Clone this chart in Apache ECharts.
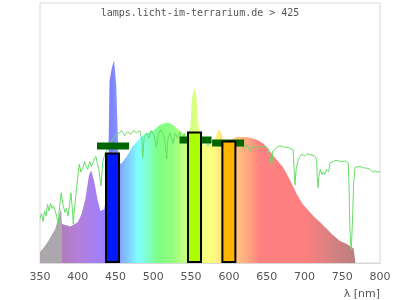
<!DOCTYPE html>
<html>
<head>
<meta charset="utf-8">
<script src="https://cdn.jsdelivr.net/npm/echarts@6/dist/echarts.min.js"></script>
<style>
  html, body { margin: 0; padding: 0; background: #fff; }
  #chart { width: 400px; height: 300px; }
</style>
</head>
<body>
<div id="chart"></div>
<script>
// lamp spectrum (relative intensity), wavelength in nm
const lampNm = [350, 355, 360, 365, 370, 375, 378, 379, 390, 400, 405, 410, 415, 418, 422, 426, 430, 435, 440, 442, 445, 448, 451, 454, 457, 464, 473, 482, 491, 500, 508, 517, 524, 530, 539, 545, 549, 551, 553, 555, 557, 559, 562, 566, 575, 581, 584, 587, 590, 593, 600, 610, 623, 628, 637, 646, 654, 663, 672, 681, 690, 698, 703, 712, 721, 730, 738, 747, 756, 765, 767.5];
const lampValues = [4.2, 6, 8, 10.5, 13, 18, 21, 15, 14, 15.7, 18.8, 24.5, 34, 35.6, 31, 24.5, 20, 20.7, 30, 70, 75, 78, 68, 40, 38, 40.7, 45, 48, 50, 51, 53, 54, 53.6, 52, 50, 49, 52, 63, 66, 67, 64, 55, 47, 45.5, 45.5, 46.5, 50, 51.6, 50, 47, 47, 48.5, 48.5, 48.2, 47.4, 45.9, 43, 39.8, 36.7, 31.8, 26.4, 22.5, 21, 18, 15.6, 13, 10.7, 8.5, 7.3, 5.6, 5.2];

// sunlight reference (green line)
const sunNm = [350, 352, 354, 356, 358, 360, 362, 364, 366, 368, 370, 372, 374, 376, 378, 380, 383, 385, 387, 389, 391, 393, 394, 396, 398, 400, 402, 404, 407, 409, 411, 413, 416, 418, 420, 422, 424, 426, 428, 429, 431, 433, 436, 440, 445, 450, 455, 458, 462, 466, 470, 474, 478, 482, 485, 486, 488, 491, 494, 497, 501, 504, 507, 510, 514, 516, 517.7, 519, 522, 526, 529, 532, 535, 538, 541, 544, 548, 552, 556, 560, 564, 568, 572, 576, 580, 584, 588, 592, 596, 600, 604, 608, 612, 616, 620, 624, 628, 632, 636, 640, 644, 648, 652, 655, 656.6, 658, 662, 666, 670, 674, 678, 682, 685, 686.5, 687.5, 689, 691, 694, 697, 700, 703, 706, 710, 714, 716, 717, 718, 719, 721, 723, 725, 727, 729, 732, 734, 738, 742, 746, 750, 754, 758, 759, 760, 761, 762, 763, 764, 765, 767, 771, 775, 779, 783, 787, 790, 793, 796, 800];
const sunValues = [17, 19, 16, 20, 18, 22.6, 20, 23, 21, 22, 20, 18, 15, 22, 27, 23, 19.5, 21, 18, 22, 27, 20, 15, 22, 27.7, 33, 38, 35, 36.7, 39, 38.6, 36, 39, 37, 38.6, 40, 41, 38, 36, 33.5, 29.6, 38.7, 42, 44, 47, 49, 50, 51, 49, 50.5, 49.5, 51, 50, 51, 47, 40.6, 49, 50, 48, 51, 49, 44.4, 50, 51.3, 49, 45, 40, 47, 50, 46, 50, 48, 50.5, 47, 50, 46, 49, 48, 47.5, 48, 46, 47, 45, 46.5, 47, 45, 47, 46, 45, 46, 45.5, 45, 46, 45, 44, 45.5, 43, 45, 44, 45, 44.5, 45, 44, 40, 37.3, 43, 44, 45, 45, 44.5, 44.5, 44, 43.5, 35, 30, 36, 39, 41, 42, 41, 42, 41.8, 41.5, 41, 40, 33, 29, 33, 36, 34, 35, 34, 36, 35, 38.5, 39, 39.5, 39.2, 39, 39.2, 38.5, 30, 15, 8, 5, 12, 20, 30, 36.8, 37, 37, 36.5, 36.5, 36, 35, 35.5, 35, 35.2];

// measured bands (bars) and reference levels (dark green markers)
const bandNm = [446, 554.5, 600];
const bandValues = [42.5, 50.6, 47.1];
const markerNm = [446.6, 555.8, 599];
const markerValues = [45, 47.3, 46.2];

const xTicks = [350, 400, 450, 500, 550, 600, 650, 700, 750, 800];

// styling
const bandColors = ['#0019ff', '#aaff00', '#ffb400'];
const spectrumStops = [
  [350, '#aca6ad'], [378.5, '#aca6ad'], [378.5, '#b07cbc'], [400, '#b57fd8'],
  [420, '#a880f0'], [435, '#9880ff'], [445, '#8080ff'], [456, '#80a8ff'],
  [468, '#80d0ff'], [480, '#80ffff'], [495, '#80ffc0'], [508, '#80ff80'],
  [525, '#90ff80'], [540, '#c0ff80'], [565, '#f0ff80'], [578, '#ffff80'],
  [592, '#ffe080'], [611, '#ffc080'], [625, '#ffa880'], [641, '#ff8080'],
  [700, '#ff8080'], [735, '#d88080'], [767.5, '#b88080']
];

const lampData = lampNm.map((n, i) => [n, lampValues[i]]);
const sunData = sunNm.map((n, i) => [n, sunValues[i]]);
const nmMin = lampNm[0], nmMax = lampNm[lampNm.length - 1];
const gradient = new echarts.graphic.LinearGradient(0, 0, 1, 0,
  spectrumStops.map(s => ({ offset: (s[0] - nmMin) / (nmMax - nmMin), color: s[1] })));

const chart = echarts.init(document.getElementById('chart'));
chart.setOption({
  animation: false,
  title: {
    text: 'lamps.licht-im-terrarium.de > 425',
    left: 'center',
    top: 3,
    textStyle: { fontFamily: 'DejaVu Sans Mono', fontSize: 10, fontWeight: 'normal', color: '#555' }
  },
  grid: {
    left: 40, right: 20, top: 3, bottom: 36,
    show: true, borderColor: '#d8d8d8', borderWidth: 1
  },
  xAxis: {
    type: 'value',
    min: 350, max: 800, interval: 50,
    name: 'λ [nm]',
    nameLocation: 'end',
    nameGap: 0,
    nameTextStyle: { fontFamily: 'DejaVu Sans', fontSize: 11, color: '#555', align: 'right', verticalAlign: 'top', padding: [26, 0, 0, 0] },
    axisLine: { lineStyle: { color: '#d8d8d8' } },
    axisTick: { show: false },
    splitLine: { show: false },
    axisLabel: {
      fontFamily: 'DejaVu Sans', fontSize: 11, color: '#555', margin: 9,
      formatter: v => xTicks.includes(v) ? String(v) : ''
    }
  },
  yAxis: { type: 'value', min: 0, max: 100, show: false },
  series: [
    {
      type: 'line', data: lampData, z: 1, silent: true,
      showSymbol: false, lineStyle: { width: 0 },
      areaStyle: { color: gradient, opacity: 1 }
    },
    {
      type: 'line', data: sunData, z: 2, silent: true,
      showSymbol: false, lineStyle: { width: 1, color: '#66dd66' }
    },
    {
      type: 'scatter', z: 3, silent: true,
      symbol: 'rect', symbolSize: [32, 7],
      itemStyle: { color: '#006600', opacity: 1 },
      data: markerNm.map((n, i) => [n, markerValues[i]])
    },
    {
      type: 'bar', z: 4, silent: true, barWidth: 15,
      data: bandNm.map((n, i) => ({
        value: [n, bandValues[i]],
        itemStyle: { color: bandColors[i], borderColor: '#000', borderWidth: 2 }
      }))
    }
  ]
});
</script>
</body>
</html>
